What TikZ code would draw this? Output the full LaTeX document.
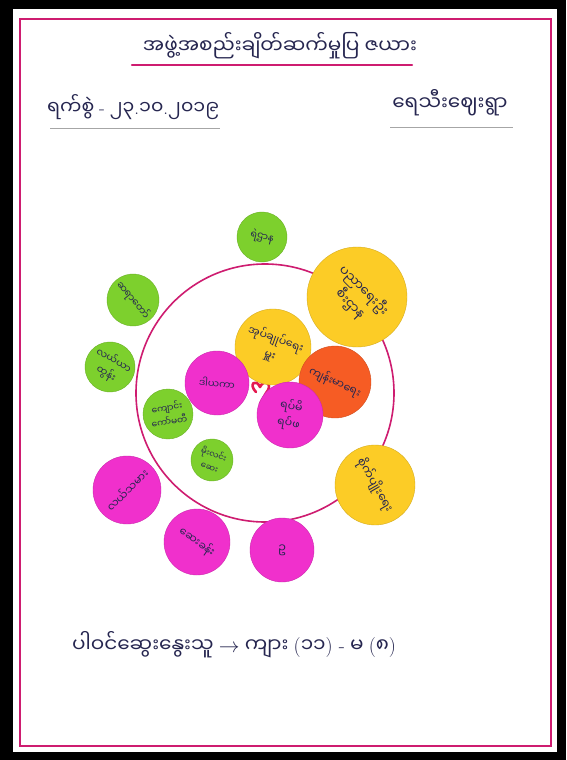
\documentclass[tikz,border=0pt]{standalone}
\usepackage{fontspec}
\newfontfamily\mmfont[Script=Myanmar]{Noto Sans Myanmar UI}
\newcommand{\lat}[1]{{\rmfamily #1}}
\definecolor{leafgreen}{RGB}{125,208,45}
\definecolor{sunyellow}{RGB}{252,204,38}
\definecolor{hotpink}{RGB}{240,48,204}
\definecolor{tangerine}{RGB}{246,92,36}
\definecolor{framepink}{RGB}{206,28,112}
\definecolor{inkblue}{RGB}{38,38,80}
\definecolor{pinmark}{RGB}{228,26,80}

\begin{document}
\begin{tikzpicture}[
		x=1pt, y=-1pt,
		every node/.style={
				font=\mmfont,
				text=inkblue
			},
		disc/.style={
				circle,
				inner sep=0pt,
				align=center,
				font=\mmfont\fontsize{10}{15}\selectfont
			},
		greendisc/.style={disc, fill=leafgreen, draw=leafgreen!85!black},
		yellowdisc/.style={disc, fill=sunyellow, draw=sunyellow!85!black},
		pinkdisc/.style={disc, fill=hotpink, draw=hotpink!85!black},
		orangedisc/.style={disc, fill=tangerine, draw=tangerine!85!black},
		underline/.style={draw=gray!70, line width=0.8pt}
	]
	% paper and frame
	\fill[black] (0,0) rectangle (566,760);
	\fill[white] (13,9) rectangle (557,752);
	\draw[framepink, line width=2pt] (20,19) rectangle (551,746);

	% heading lines
	\node[font=\mmfont\fontsize{20}{23}\selectfont] (title) at (280,46) {အဖွဲ့အစည်းချိတ်ဆက်မှုပြ ဇယား};
	\draw[framepink, line width=2.2pt, line cap=round] (132,65) -- (412,65);

	\node[font=\mmfont\fontsize{19}{22}\selectfont] (date) at (133,107) {ရက်စွဲ \lat{-} ၂၃\lat{.}၁၀\lat{.}၂၀၁၉};
	\draw[underline] (50,128) -- (220,128);

	\node[font=\mmfont\fontsize{20}{23}\selectfont] (village) at (450,103) {ရေသီးဈေးရွာ};
	\draw[underline] (390,127) -- (513,127);

	% big ring and centre mark
	\draw[framepink, line width=1.6pt] (265,393) circle (129);
	\draw[pinmark, line width=2.6pt, line cap=round, line join=round]
	(256,392) .. controls (248,384) and (256,378) .. (260,387)
	.. controls (264,378) and (274,384) .. (266,393) -- (260,404);

	% organisations
	\node[greendisc, minimum size=50pt, rotate=-15] (police) at (262,237) {ရဲဌာန};
	\node[yellowdisc, minimum size=100pt, rotate=-45, font=\mmfont\fontsize{13}{19}\selectfont] (education) at (357,297) {ပညာရေးဦး\\စီးဌာန};
	\node[greendisc, minimum size=52pt, rotate=-50] (monk) at (133,300) {ဆရာတော်};
	\node[greendisc, minimum size=50pt, rotate=-30] (farming) at (110,367) {လယ်ယာ\\ထွန်း};
	\node[yellowdisc, minimum size=76pt, rotate=-20, font=\mmfont\fontsize{11}{17}\selectfont] (admin) at (273,347) {အုပ်ချုပ်ရေး\\မှူး};
	\node[orangedisc, minimum size=72pt, rotate=-25, font=\mmfont\fontsize{11}{15}\selectfont] (health) at (335,382) {ကျန်းမာရေး};
	\node[pinkdisc, minimum size=64pt, rotate=-5] (donor) at (217,383) {ဒါယကာ};
	\node[pinkdisc, minimum size=66pt, rotate=-10, font=\mmfont\fontsize{11}{17}\selectfont] (elders) at (290,415) {ရပ်မိ\\ရပ်ဖ};
	\node[greendisc, minimum size=50pt, rotate=10, font=\mmfont\fontsize{9}{14}\selectfont] (school) at (168,414) {ကျောင်း\\ကော်မတီ};
	\node[greendisc, minimum size=42pt, rotate=-20, font=\mmfont\fontsize{8.5}{13}\selectfont] (clinic) at (212,460) {မိုးလင်း\\ဆေး};
	\node[pinkdisc, minimum size=68pt, rotate=45, font=\mmfont\fontsize{11}{15}\selectfont] (farmers) at (127,490) {လယ်သမား};
	\node[pinkdisc, minimum size=66pt, rotate=-35, font=\mmfont\fontsize{11}{15}\selectfont] (medic) at (197,542) {ဆေးခန်း};
	\node[pinkdisc, minimum size=64pt, font=\mmfont\fontsize{12}{15}\selectfont] (well) at (282,550) {ဥ};
	\node[yellowdisc, minimum size=80pt, rotate=-60, font=\mmfont\fontsize{12}{15}\selectfont] (agri) at (375,485) {စိုက်ပျိုးရေး};

	% participants
	\node[font=\mmfont\fontsize{20}{23}\selectfont] (count) at (234,645) {ပါဝင်ဆွေးနွေးသူ $\rightarrow$ ကျား \lat{(}၁၁\lat{) -} မ \lat{(}၈\lat{)}};
\end{tikzpicture}
\end{document}
